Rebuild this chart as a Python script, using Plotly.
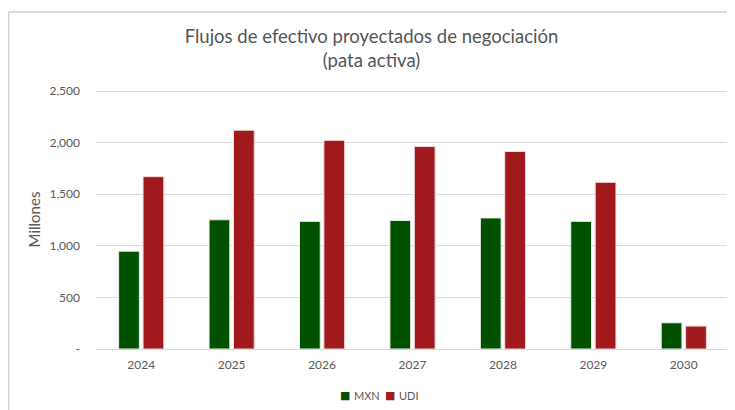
import plotly.graph_objects as go

years = ["2024", "2025", "2026", "2027", "2028", "2029", "2030"]
mxn = [948, 1252, 1237, 1245, 1270, 1237, 254]
udi = [1670, 2120, 2022, 1962, 1914, 1615, 222]

y_ticks = [0, 500, 1000, 1500, 2000, 2500]
y_tick_text = ["-", "500", "1,000", "1,500", "2,000", "2,500"]

FONT = "Lato"
GRAY = "#595959"
GREEN = "#005000"
RED = "#a0191c"

# The page body adds an 8px offset; positions below are in screenshot pixels.
OFF = 8
W, H = 735 - OFF, 410 - OFF
PL, PR, PT, PB = 96, 729, 90, 349  # plot area edges in screenshot pixels
ML, MR, MT, MB = PL - OFF, (W + OFF) - PR, PT - OFF, (H + OFF) - PB
plot_w = W - ML - MR
plot_h = H - MT - MB


def px_x(px):
    return (px - PL) / plot_w


def px_y(py):
    return (PB - py) / plot_h


fig = go.Figure()
fig.add_trace(go.Bar(name="MXN", x=years, y=mxn, showlegend=False,
                     marker=dict(color=GREEN, line=dict(color="#e8f0e8", width=1))))
fig.add_trace(go.Bar(name="UDI", x=years, y=udi, showlegend=False,
                     marker=dict(color=RED, line=dict(color="#f4d8d8", width=1))))

fig.update_layout(
    width=W, height=H,
    margin=dict(l=ML, r=MR, t=MT, b=MB, autoexpand=False),
    paper_bgcolor="white", plot_bgcolor="white",
    barmode="group", bargap=0.46, bargroupgap=0.15,
    font=dict(family=FONT, color=GRAY, size=12),
    title=dict(text="Flujos de efectivo proyectados de negociación<br>(pata activa)",
               x=0.5, xanchor="center", y=1 - (43 - OFF) / H, yanchor="middle",
               font=dict(family=FONT, size=18.5, color="#555555")),
    showlegend=False,
    xaxis=dict(showgrid=False, showline=True, linecolor="#d9d9d9", linewidth=1,
               ticks="", ticklabelstandoff=5,
               tickfont=dict(size=12, color=GRAY), automargin=False),
    yaxis=dict(range=[0, 2510], tickvals=y_ticks, ticktext=y_tick_text,
               showgrid=True, gridcolor="#dcdcdc", gridwidth=1,
               zeroline=False, showline=False, ticklabelstandoff=15,
               tickfont=dict(size=12, color=GRAY), automargin=False,
               title=dict(text="Millones", font=dict(size=15, color=GRAY), standoff=5)),
)

# Chart border (top and left edges of the Excel chart frame)
fig.add_shape(type="line", xref="paper", yref="paper",
              x0=px_x(8.5), x1=px_x(8.5), y0=px_y(12), y1=px_y(420),
              line=dict(color="#d0d0d0", width=1.5))
fig.add_shape(type="line", xref="paper", yref="paper",
              x0=px_x(8.5), x1=px_x(733), y0=px_y(12), y1=px_y(12),
              line=dict(color="#d0d0d0", width=1.5))

# Compact Excel-style legend
legend_y = px_y(395)
for sq_x, txt_x, color, label in [(344.5, 352, GREEN, "MXN"), (389.5, 397, RED, "UDI")]:
    fig.add_annotation(xref="paper", yref="paper", x=px_x(sq_x), y=legend_y,
                       text="■", showarrow=False, xanchor="center", yanchor="middle",
                       font=dict(size=11, color=color, family="DejaVu Sans"))
    fig.add_annotation(xref="paper", yref="paper", x=px_x(txt_x), y=legend_y,
                       text=label, showarrow=False, xanchor="left", yanchor="middle",
                       font=dict(size=11, color=GRAY, family=FONT))

fig.write_html("out.html")
